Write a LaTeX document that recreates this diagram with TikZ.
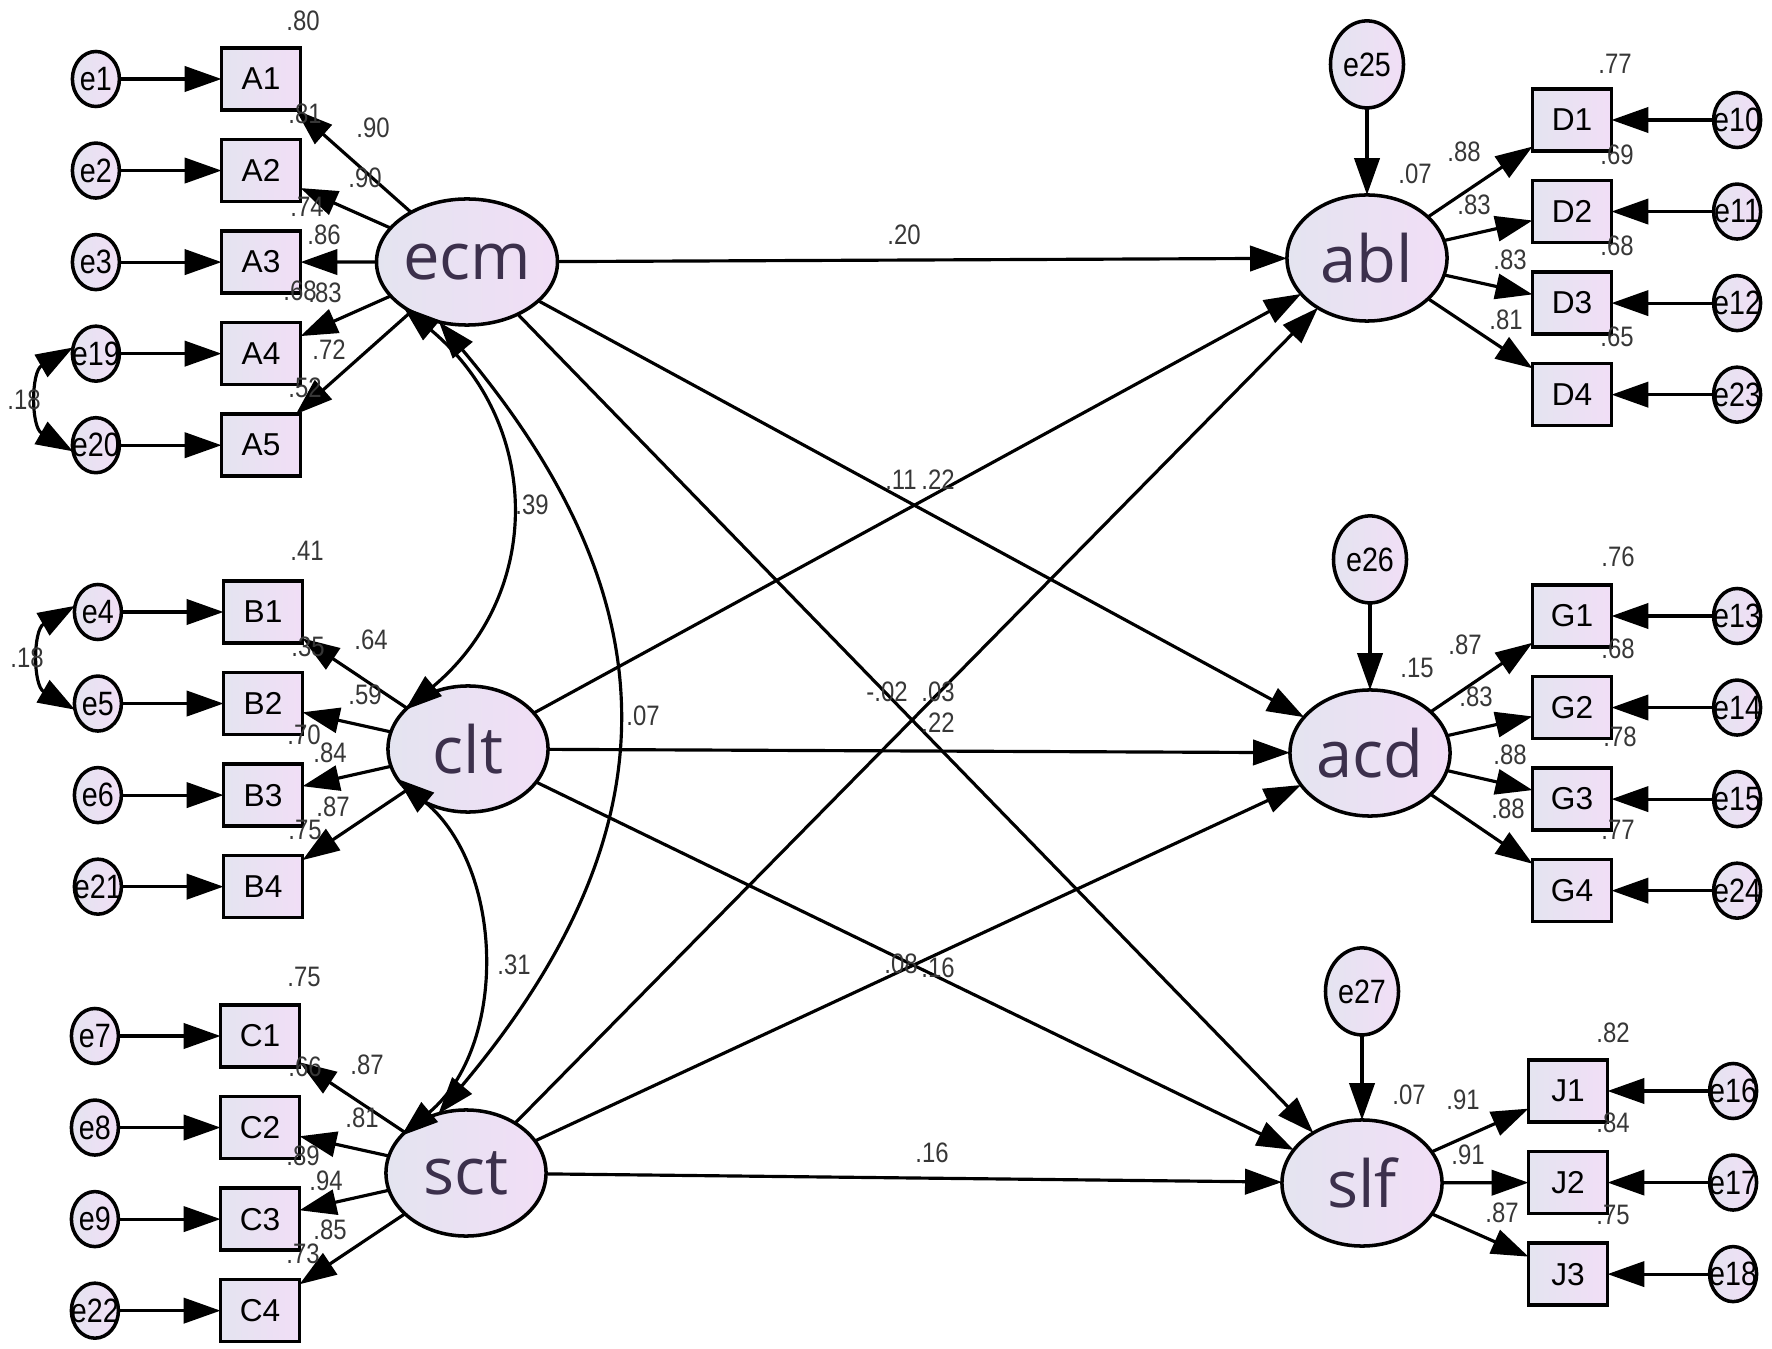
\documentclass[tikz,border=0pt]{standalone}
\usepackage{fontspec}
\setmainfont{Liberation Sans}
\newfontfamily\numfont[FakeStretch=0.85]{Liberation Sans}
\newfontfamily\latfont{Open Sans}
\usepackage{xcolor}
\usepackage{tikz}
\usetikzlibrary{shapes.geometric, arrows.meta, positioning}

\definecolor{shadeL}{RGB}{228,228,240}
\definecolor{shadeR}{RGB}{241,222,246}
\definecolor{latink}{RGB}{60,48,76}
\definecolor{numink}{RGB}{55,55,55}

\begin{document}
\begin{tikzpicture}[
    x=0.01cm, y=0.01cm,
    node distance=0.295cm and 1.02cm,
    latent/.style={ellipse, draw, line width=1pt, left color=shadeL, right color=shadeR, minimum width=1.6cm, minimum height=1.26cm, inner sep=0pt, outer sep=0pt, text=latink, font=\latfont\fontsize{18.5}{20}\selectfont},
    item/.style={rectangle, draw, line width=1pt, left color=shadeL, right color=shadeR, minimum width=0.79cm, minimum height=0.62cm, inner sep=0pt, outer sep=0pt, font=\fontsize{9}{10}\selectfont},
    err/.style={ellipse, draw, line width=1pt, left color=shadeL, right color=shadeR, minimum width=0.47cm, minimum height=0.55cm, inner sep=0pt, outer sep=0pt, font=\numfont\fontsize{9.6}{10}\selectfont, execute at begin node={\hbox to 0pt\bgroup\hss}, execute at end node={\hss\egroup}},
    res/.style={err, minimum width=0.73cm, minimum height=0.87cm},
    arr/.style={-{Triangle[length=10.5pt, width=7.2pt]}, line width=0.9pt},
    cov/.style={{Triangle[length=10.5pt, width=7.2pt]}-{Triangle[length=10.5pt, width=7.2pt]}, line width=0.9pt},
    num/.style={inner sep=0pt, text=numink, font=\numfont\fontsize{8}{9}\selectfont},
]
\useasboundingbox (0,0) rectangle (1772,-1349);

% Exogenous constructs
\node[latent] (ecm) at (467,-262) {ecm};
\node[latent] (clt) at (468,-749) {clt};
\node[latent] (sct) at (466,-1173) {sct};

% Endogenous constructs
\node[latent] (abl) at (1367,-258) {abl};
\node[latent] (acd) at (1370,-753) {acd};
\node[latent] (slf) at (1362,-1183) {slf};
\node[res, above=0.87cm of abl] (e25) {e25};
\node[res, above=0.87cm of acd] (e26) {e26};
\node[res, above=0.85cm of slf] (e27) {e27};

% ecm items
\node[item] (A1) at (261,-79) {A1};
\node[item, below=of A1] (A2) {A2};
\node[item, below=of A2] (A3) {A3};
\node[item, below=of A3] (A4) {A4};
\node[item, below=of A4] (A5) {A5};
\node[err, left=of A1] (e1) {e1};
\node[err, left=of A2] (e2) {e2};
\node[err, left=of A3] (e3) {e3};
\node[err, left=of A4] (e19) {e19};
\node[err, left=of A5] (e20) {e20};

% clt items
\node[item] (B1) at (263,-612) {B1};
\node[item, below=of B1] (B2) {B2};
\node[item, below=of B2] (B3) {B3};
\node[item, below=of B3] (B4) {B4};
\node[err, left=of B1] (e4) {e4};
\node[err, left=of B2] (e5) {e5};
\node[err, left=of B3] (e6) {e6};
\node[err, left=of B4] (e21) {e21};

% sct items
\node[item] (C1) at (260,-1036) {C1};
\node[item, below=of C1] (C2) {C2};
\node[item, below=of C2] (C3) {C3};
\node[item, below=of C3] (C4) {C4};
\node[err, left=of C1] (e7) {e7};
\node[err, left=of C2] (e8) {e8};
\node[err, left=of C3] (e9) {e9};
\node[err, left=of C4] (e22) {e22};

% abl items
\node[item] (D1) at (1572,-120) {D1};
\node[item, below=of D1] (D2) {D2};
\node[item, below=of D2] (D3) {D3};
\node[item, below=of D3] (D4) {D4};
\node[err, right=of D1] (e10) {e10};
\node[err, right=of D2] (e11) {e11};
\node[err, right=of D3] (e12) {e12};
\node[err, right=of D4] (e23) {e23};

% acd items
\node[item] (G1) at (1572,-616) {G1};
\node[item, below=of G1] (G2) {G2};
\node[item, below=of G2] (G3) {G3};
\node[item, below=of G3] (G4) {G4};
\node[err, right=of G1] (e13) {e13};
\node[err, right=of G2] (e14) {e14};
\node[err, right=of G3] (e15) {e15};
\node[err, right=of G4] (e24) {e24};

% slf items
\node[item] (J1) at (1568,-1091) {J1};
\node[item, below=of J1] (J2) {J2};
\node[item, below=of J2] (J3) {J3};
\node[err, right=of J1] (e16) {e16};
\node[err, right=of J2] (e17) {e17};
\node[err, right=of J3] (e18) {e18};

% Measurement arrows
\draw[arr] (e1) -- (A1);
\draw[arr] (e2) -- (A2);
\draw[arr] (e3) -- (A3);
\draw[arr] (e19) -- (A4);
\draw[arr] (e20) -- (A5);
\draw[arr] (ecm) -- (A1);
\draw[arr] (ecm) -- (A2);
\draw[arr] (ecm) -- (A3);
\draw[arr] (ecm) -- (A4);
\draw[arr] (ecm) -- (A5);
\draw[arr] (e4) -- (B1);
\draw[arr] (e5) -- (B2);
\draw[arr] (e6) -- (B3);
\draw[arr] (e21) -- (B4);
\draw[arr] (clt) -- (B1);
\draw[arr] (clt) -- (B2);
\draw[arr] (clt) -- (B3);
\draw[arr] (clt) -- (B4);
\draw[arr] (e7) -- (C1);
\draw[arr] (e8) -- (C2);
\draw[arr] (e9) -- (C3);
\draw[arr] (e22) -- (C4);
\draw[arr] (sct) -- (C1);
\draw[arr] (sct) -- (C2);
\draw[arr] (sct) -- (C3);
\draw[arr] (sct) -- (C4);
\draw[arr] (abl) -- (D1);
\draw[arr] (abl) -- (D2);
\draw[arr] (abl) -- (D3);
\draw[arr] (abl) -- (D4);
\draw[arr] (e10) -- (D1);
\draw[arr] (e11) -- (D2);
\draw[arr] (e12) -- (D3);
\draw[arr] (e23) -- (D4);
\draw[arr] (acd) -- (G1);
\draw[arr] (acd) -- (G2);
\draw[arr] (acd) -- (G3);
\draw[arr] (acd) -- (G4);
\draw[arr] (e13) -- (G1);
\draw[arr] (e14) -- (G2);
\draw[arr] (e15) -- (G3);
\draw[arr] (e24) -- (G4);
\draw[arr] (slf) -- (J1);
\draw[arr] (slf) -- (J2);
\draw[arr] (slf) -- (J3);
\draw[arr] (e16) -- (J1);
\draw[arr] (e17) -- (J2);
\draw[arr] (e18) -- (J3);
\draw[arr] (e25) -- (abl);
\draw[arr] (e26) -- (acd);
\draw[arr] (e27) -- (slf);

% Structural paths
\draw[arr] (ecm) -- (abl);
\draw[arr] (ecm) -- (acd);
\draw[arr] (ecm) -- (slf);
\draw[arr] (clt) -- (abl);
\draw[arr] (clt) -- (acd);
\draw[arr] (clt) -- (slf);
\draw[arr] (sct) -- (abl);
\draw[arr] (sct) -- (acd);
\draw[arr] (sct) -- (slf);

% Covariances
\draw[cov] (e19.165) to[out=210, in=150, looseness=1.2] (e20.195);
\draw[cov] (e4.165) to[out=210, in=150, looseness=1.2] (e5.195);
\draw[cov] (ecm.215) to[out=-40, in=40, looseness=1.15] (clt.148);
\draw[cov] (ecm.245) to[out=-50, in=50, looseness=1.19] (sct.115);
\draw[cov] (clt.203) to[out=-40, in=40] (sct.150);

% Estimates, left side
\node[num] (rA1) at (303,-21) {.80};
\node[num] (rA2) at (305,-114) {.81};
\node[num] (wA1) at (373,-128) {.90};
\node[num] (wA2) at (365,-178) {.90};
\node[num] (rA3) at (307,-207) {.74};
\node[num] (wA3) at (324,-235) {.86};
\node[num] (rA4) at (300,-291) {.68};
\node[num] (wA4) at (325,-293) {.83};
\node[num] (wA5) at (329,-350) {.72};
\node[num] (rA5) at (305,-388) {.52};
\node[num] (cE19) at (24,-400) {.18};
\node[num] (rB1) at (307,-551) {.41};
\node[num] (wB1) at (371,-640) {.64};
\node[num] (rB2) at (308,-647) {.35};
\node[num] (wB2) at (365,-695) {.59};
\node[num] (rB3) at (304,-735) {.70};
\node[num] (wB3) at (330,-753) {.84};
\node[num] (wB4) at (333,-807) {.87};
\node[num] (rB4) at (305,-830) {.75};
\node[num] (cE4) at (27,-658) {.18};
\node[num] (rC1) at (304,-977) {.75};
\node[num] (wC1) at (367,-1065) {.87};
\node[num] (rC2) at (305,-1067) {.66};
\node[num] (wC2) at (362,-1118) {.81};
\node[num] (rC3) at (303,-1156) {.89};
\node[num] (wC3) at (326,-1181) {.94};
\node[num] (wC4) at (330,-1230) {.85};
\node[num] (rC4) at (303,-1254) {.73};
\node[num] (cEcmClt) at (532,-505) {.39};
\node[num] (cEcmSct) at (643,-716) {.07};
\node[num] (cCltSct) at (514,-965) {.31};

% Estimates, structural paths
\node[num] (pEcmAbl) at (904,-235) {.20};
\node[num] (pEcmAcd) at (901,-480) {.11};
\node[num] (pCltAbl) at (938,-480) {.22};
\node[num] (pEcmSlf) at (887,-692) {-.02};
\node[num] (pSctAbl) at (938,-692) {.03};
\node[num] (pCltAcd) at (938,-723) {.22};
\node[num] (pCltSlf) at (901,-964) {.08};
\node[num] (pSctAcd) at (938,-968) {.16};
\node[num] (pSctSlf) at (932,-1153) {.16};

% Estimates, right side
\node[num] (rAbl) at (1415,-174) {.07};
\node[num] (rD1) at (1615,-64) {.77};
\node[num] (wD1) at (1464,-152) {.88};
\node[num] (rD2) at (1617,-155) {.69};
\node[num] (wD2) at (1474,-205) {.83};
\node[num] (rD3) at (1617,-246) {.68};
\node[num] (wD3) at (1510,-260) {.83};
\node[num] (wD4) at (1506,-320) {.81};
\node[num] (rD4) at (1617,-337) {.65};
\node[num] (rAcd) at (1417,-668) {.15};
\node[num] (rG1) at (1618,-557) {.76};
\node[num] (wG1) at (1465,-645) {.87};
\node[num] (rG2) at (1618,-649) {.68};
\node[num] (wG2) at (1476,-697) {.83};
\node[num] (rG3) at (1620,-737) {.78};
\node[num] (wG3) at (1510,-755) {.88};
\node[num] (wG4) at (1508,-809) {.88};
\node[num] (rG4) at (1618,-830) {.77};
\node[num] (rSlf) at (1409,-1095) {.07};
\node[num] (rJ1) at (1613,-1033) {.82};
\node[num] (wJ1) at (1463,-1100) {.91};
\node[num] (rJ2) at (1613,-1123) {.84};
\node[num] (wJ2) at (1468,-1155) {.91};
\node[num] (wJ3) at (1502,-1213) {.87};
\node[num] (rJ3) at (1613,-1215) {.75};

\end{tikzpicture}
\end{document}
